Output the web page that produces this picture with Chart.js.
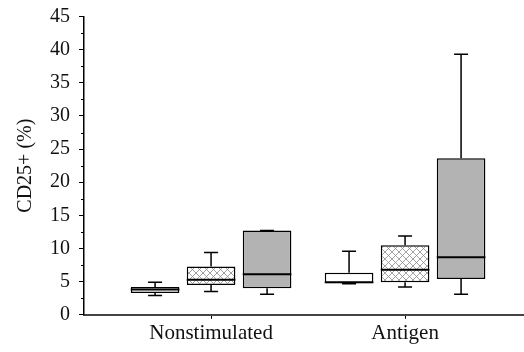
<!DOCTYPE html>
<html>
<head>
<meta charset="utf-8">
<script src="https://cdn.jsdelivr.net/npm/chart.js@4/dist/chart.umd.min.js"></script>
<style>
  html, body { margin: 0; padding: 0; background: #fff; }
  canvas { display: block; }
</style>
</head>
<body>
<canvas id="chart" width="524" height="352"></canvas>
<script>
// Groups on the x axis
const categories = ['Nonstimulated', 'Antigen'];

// Box statistics: one inner array per series (white, cross-hatched, grey),
// one value per group
const lowWhisker    = [[2.9, 4.7],  [3.5, 4.2],  [3.1, 3.1]];
const lowerQuartile = [[3.3, 4.75], [4.5, 4.9],  [4.0, 5.4]];
const median        = [[3.8, 4.9],  [5.3, 6.8],  [6.1, 8.7]];
const upperQuartile = [[4.2, 6.35], [7.3, 10.5], [12.7, 23.6]];
const highWhisker   = [[4.9, 9.6],  [9.4, 11.9], [12.7, 39.3]];

// Value axis
const yMin = 0;
const yMax = 45;
const yStep = 5;
const yTitle = 'CD25+ (%)';

const FONT = "'Liberation Serif', 'DejaVu Serif', serif";

// Cross-hatch fill for the middle series
function makeHatch() {
  const c = document.createElement('canvas');
  c.width = 7; c.height = 7;
  const g = c.getContext('2d');
  g.fillStyle = '#ffffff';
  g.fillRect(0, 0, 7, 7);
  g.strokeStyle = '#8a8a8a';
  g.lineWidth = 0.8;
  g.beginPath();
  g.moveTo(0, 0); g.lineTo(7, 7);
  g.moveTo(7, 0); g.lineTo(0, 7);
  g.stroke();
  return g.createPattern(c, 'repeat');
}

const fills = ['#ffffff', makeHatch(), '#b3b3b3'];

const datasets = lowerQuartile.map((q1s, s) => ({
  data: q1s.map((q1, i) => ({ x: i + 1, y: [q1, upperQuartile[s][i]] })),
  backgroundColor: fills[s],
  borderColor: '#000',
  borderWidth: 1.5,
  borderSkipped: false,
  categoryPercentage: 0.866,
  barPercentage: 0.868
}));

// Whiskers, caps and median lines drawn on top of the boxes
const boxExtras = {
  id: 'boxExtras',
  afterDatasetsDraw(chart) {
    const ctx = chart.ctx;
    const y = chart.scales.y;
    ctx.save();
    ctx.strokeStyle = '#000';
    chart.data.datasets.forEach((ds, s) => {
      const meta = chart.getDatasetMeta(s);
      meta.data.forEach((bar, i) => {
        const x = bar.x;
        const half = bar.width / 2;
        const cap = 7;
        const pLo = y.getPixelForValue(lowWhisker[s][i]);
        const pQ1 = y.getPixelForValue(lowerQuartile[s][i]);
        const pQ3 = y.getPixelForValue(upperQuartile[s][i]);
        const pHi = y.getPixelForValue(highWhisker[s][i]);
        const pMed = y.getPixelForValue(median[s][i]);
        ctx.lineWidth = 1.5;
        ctx.beginPath();
        ctx.moveTo(x, pQ3); ctx.lineTo(x, pHi);
        ctx.moveTo(x - cap, pHi); ctx.lineTo(x + cap, pHi);
        ctx.moveTo(x, pQ1); ctx.lineTo(x, pLo);
        ctx.moveTo(x - cap, pLo); ctx.lineTo(x + cap, pLo);
        ctx.stroke();
        ctx.lineWidth = 2;
        ctx.beginPath();
        ctx.moveTo(x - half, pMed); ctx.lineTo(x + half, pMed);
        ctx.stroke();
      });
    });
    // minor ticks on the value axis
    const left = chart.chartArea.left;
    ctx.lineWidth = 1;
    ctx.beginPath();
    for (let v = yMin + yStep / 2; v < yMax; v += yStep) {
      const p = Math.round(y.getPixelForValue(v)) + 0.5;
      ctx.moveTo(left - 3, p); ctx.lineTo(left, p);
    }
    ctx.stroke();
    ctx.restore();
  }
};

new Chart(document.getElementById('chart'), {
  type: 'bar',
  data: { datasets },
  options: {
    responsive: false,
    animation: false,
    layout: { padding: { top: 0, right: 0, bottom: 4, left: 14 } },
    plugins: { legend: { display: false }, tooltip: { enabled: false } },
    scales: {
      x: {
        type: 'linear',
        min: 0.345,
        max: 2.613,
        offset: false,
        bounds: 'data',
        afterBuildTicks(scale) {
          scale.ticks = categories.map((c, i) => ({ value: i + 1 }));
        },
        ticks: {
          callback: (v) => categories[v - 1] || '',
          font: { family: FONT, size: 21 },
          color: '#111',
          padding: 2,
          maxRotation: 0,
          autoSkip: false
        },
        grid: { offset: false, drawOnChartArea: false, drawTicks: true, tickLength: 4, color: '#000', lineWidth: 1 },
        border: { color: '#444', width: 2 }
      },
      y: {
        min: yMin,
        max: yMax,
        ticks: {
          stepSize: yStep,
          font: { family: FONT, size: 20, lineHeight: 0.75 },
          color: '#111',
          padding: 9
        },
        title: {
          display: true,
          text: yTitle,
          font: { family: FONT, size: 20 },
          color: '#111',
          padding: { top: 0, bottom: 3 }
        },
        grid: { drawOnChartArea: false, drawTicks: true, tickLength: 5, color: '#000', lineWidth: 1 },
        border: { color: '#000', width: 1.5 }
      }
    }
  },
  plugins: [boxExtras]
});
</script>
</body>
</html>
